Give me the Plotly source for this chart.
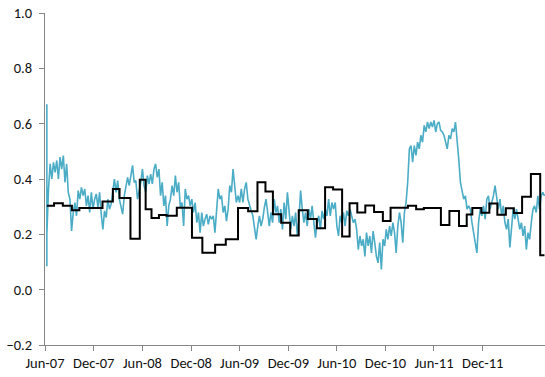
import pandas as pd
import plotly.graph_objects as go

# Daily-ish series (light blue): the opening jump is printed at the first date,
# the remaining values are spaced evenly between the first and last date
series_start = "2007-06-08"
series_end = "2012-07-20"
opening_values = [0.670, 0.085]
series_values = [
    0.200, 0.364, 0.455, 0.400, 0.460, 0.424, 0.467, 0.400, 0.479, 0.436,
    0.485, 0.388, 0.455, 0.352, 0.327, 0.212, 0.279, 0.315, 0.267, 0.358,
    0.327, 0.370, 0.340, 0.364, 0.303, 0.340, 0.279, 0.352, 0.291, 0.327,
    0.346, 0.297, 0.352, 0.273, 0.218, 0.285, 0.261, 0.327, 0.291, 0.309,
    0.364, 0.400, 0.352, 0.394, 0.327, 0.303, 0.273, 0.340, 0.376, 0.406,
    0.376, 0.418, 0.449, 0.388, 0.394, 0.327, 0.352, 0.388, 0.436, 0.376,
    0.352, 0.412, 0.382, 0.418, 0.382, 0.436, 0.455, 0.406, 0.436, 0.340,
    0.388, 0.303, 0.340, 0.230, 0.303, 0.327, 0.376, 0.340, 0.412, 0.352,
    0.388, 0.297, 0.315, 0.230, 0.364, 0.327, 0.340, 0.303, 0.327, 0.279,
    0.315, 0.242, 0.279, 0.206, 0.279, 0.230, 0.255, 0.273, 0.236, 0.267,
    0.255, 0.267, 0.206, 0.279, 0.364, 0.327, 0.340, 0.279, 0.303, 0.248,
    0.291, 0.376, 0.352, 0.436, 0.376, 0.315, 0.340, 0.315, 0.364, 0.315,
    0.364, 0.388, 0.327, 0.303, 0.285, 0.267, 0.230, 0.182, 0.230, 0.267,
    0.230, 0.255, 0.297, 0.327, 0.279, 0.230, 0.279, 0.242, 0.327, 0.279,
    0.303, 0.242, 0.291, 0.218, 0.315, 0.255, 0.352, 0.285, 0.218, 0.267,
    0.230, 0.279, 0.194, 0.255, 0.358, 0.291, 0.242, 0.279, 0.230, 0.291,
    0.255, 0.303, 0.242, 0.188, 0.242, 0.267, 0.218, 0.285, 0.255, 0.291,
    0.267, 0.327, 0.267, 0.315, 0.291, 0.315, 0.230, 0.194, 0.267, 0.242,
    0.279, 0.230, 0.285, 0.267, 0.291, 0.267, 0.242, 0.255, 0.218, 0.145,
    0.194,
    0.158, 0.182, 0.120, 0.206, 0.158, 0.194, 0.133, 0.212, 0.170, 0.120,
    0.097, 0.170, 0.073, 0.182, 0.158, 0.218, 0.182, 0.230, 0.194, 0.242,
    0.206, 0.133, 0.230, 0.279, 0.242, 0.170, 0.279, 0.315, 0.388, 0.509,
    0.521, 0.461, 0.521, 0.485, 0.533, 0.509, 0.558, 0.533, 0.594, 0.570,
    0.606, 0.582, 0.606, 0.588, 0.612, 0.570, 0.600, 0.606, 0.576, 0.570,
    0.558, 0.533, 0.509, 0.558, 0.545, 0.582, 0.570, 0.606, 0.545, 0.470,
    0.388, 0.352, 0.327, 0.339, 0.291, 0.303, 0.291, 0.242, 0.206, 0.170,
    0.133, 0.242, 0.291, 0.267, 0.303, 0.255, 0.327, 0.339, 0.291, 0.315,
    0.339, 0.376, 0.327, 0.291, 0.327, 0.267, 0.303, 0.242, 0.218, 0.255,
    0.153, 0.242, 0.291, 0.255, 0.291, 0.255, 0.218, 0.242, 0.194, 0.230,
    0.145, 0.206, 0.182, 0.242, 0.291, 0.303, 0.279, 0.339, 0.291, 0.339,
    0.352, 0.339,
]

# Step series (black): value holds from each date until the next one
step_dates = [
    "2007-06-08", "2007-07-05", "2007-08-07", "2007-09-10", "2007-10-08",
    "2008-01-03", "2008-02-11", "2008-03-07", "2008-04-17", "2008-05-22",
    "2008-06-13", "2008-07-05", "2008-08-02", "2008-08-30", "2008-10-08",
    "2008-12-04", "2009-01-12", "2009-03-01", "2009-04-10", "2009-05-26",
    "2009-07-03", "2009-08-07", "2009-09-06", "2009-10-04", "2009-11-04",
    "2009-12-08", "2010-01-09", "2010-02-12", "2010-03-18", "2010-04-18",
    "2010-05-18", "2010-06-21", "2010-07-19", "2010-08-17", "2010-09-16",
    "2010-10-19", "2010-11-21", "2010-12-20", "2011-02-23", "2011-03-26",
    "2011-04-24", "2011-06-27", "2011-07-29", "2011-09-03", "2011-10-02",
    "2011-10-23", "2011-11-26", "2011-12-26", "2012-01-25", "2012-02-26",
    "2012-03-27", "2012-04-27", "2012-05-30", "2012-07-04", "2012-07-20",
]
step_values = [
    0.303, 0.312, 0.303, 0.287, 0.295,
    0.319, 0.364, 0.331, 0.184, 0.397,
    0.291, 0.259, 0.270, 0.267, 0.296,
    0.188, 0.133, 0.162, 0.182, 0.295,
    0.283, 0.388, 0.355, 0.273, 0.242,
    0.196, 0.287, 0.255, 0.222, 0.370,
    0.362, 0.192, 0.312, 0.279, 0.304,
    0.281, 0.248, 0.296, 0.303, 0.291,
    0.295, 0.234, 0.284, 0.230, 0.272,
    0.295, 0.278, 0.311, 0.271, 0.294,
    0.277, 0.336, 0.418, 0.124, 0.124,
]

tick_dates = ["2007-06-01", "2007-12-01", "2008-06-01", "2008-12-01",
              "2009-06-01", "2009-12-01", "2010-06-01", "2010-12-01",
              "2011-06-01", "2011-12-01"]
tick_labels = ["Jun-07", "Dec-07", "Jun-08", "Dec-08", "Jun-09",
               "Dec-09", "Jun-10", "Dec-10", "Jun-11", "Dec-11"]

series_dates = (
    [pd.Timestamp(series_start)] * len(opening_values)
    + list(pd.date_range(series_start, series_end, periods=len(series_values)))
)

fig = go.Figure()
fig.add_trace(go.Scatter(
    x=series_dates, y=opening_values + series_values, mode="lines",
    line=dict(color="#4BACC6", width=1.6),
    showlegend=False, hoverinfo="skip",
))
fig.add_trace(go.Scatter(
    x=pd.to_datetime(step_dates), y=step_values, mode="lines",
    line=dict(color="#000000", width=2, shape="hv"),
    showlegend=False, hoverinfo="skip",
))

axis_font = dict(family="Carlito, Calibri, Lato, sans-serif", size=14.5, color="#111111")

fig.update_layout(
    width=545, height=377,
    margin=dict(l=45, r=0, t=13, b=32),
    paper_bgcolor="white", plot_bgcolor="white",
    xaxis=dict(
        type="date", range=["2007-06-01", "2012-07-22"],
        tickvals=tick_dates, ticktext=tick_labels,
        showline=True, linecolor="#868686", linewidth=1,
        ticks="outside", ticklen=5, tickcolor="#868686",
        showgrid=False, zeroline=False, tickfont=axis_font,
    ),
    yaxis=dict(
        range=[-0.2, 1.0], dtick=0.2, tick0=0, tickformat=".1f",
        showline=True, linecolor="#868686", linewidth=1,
        ticks="outside", ticklen=5, tickcolor="#868686",
        showgrid=False, zeroline=False, tickfont=axis_font,
        ticklabelstandoff=4,
    ),
)

fig.write_html("out.html")
